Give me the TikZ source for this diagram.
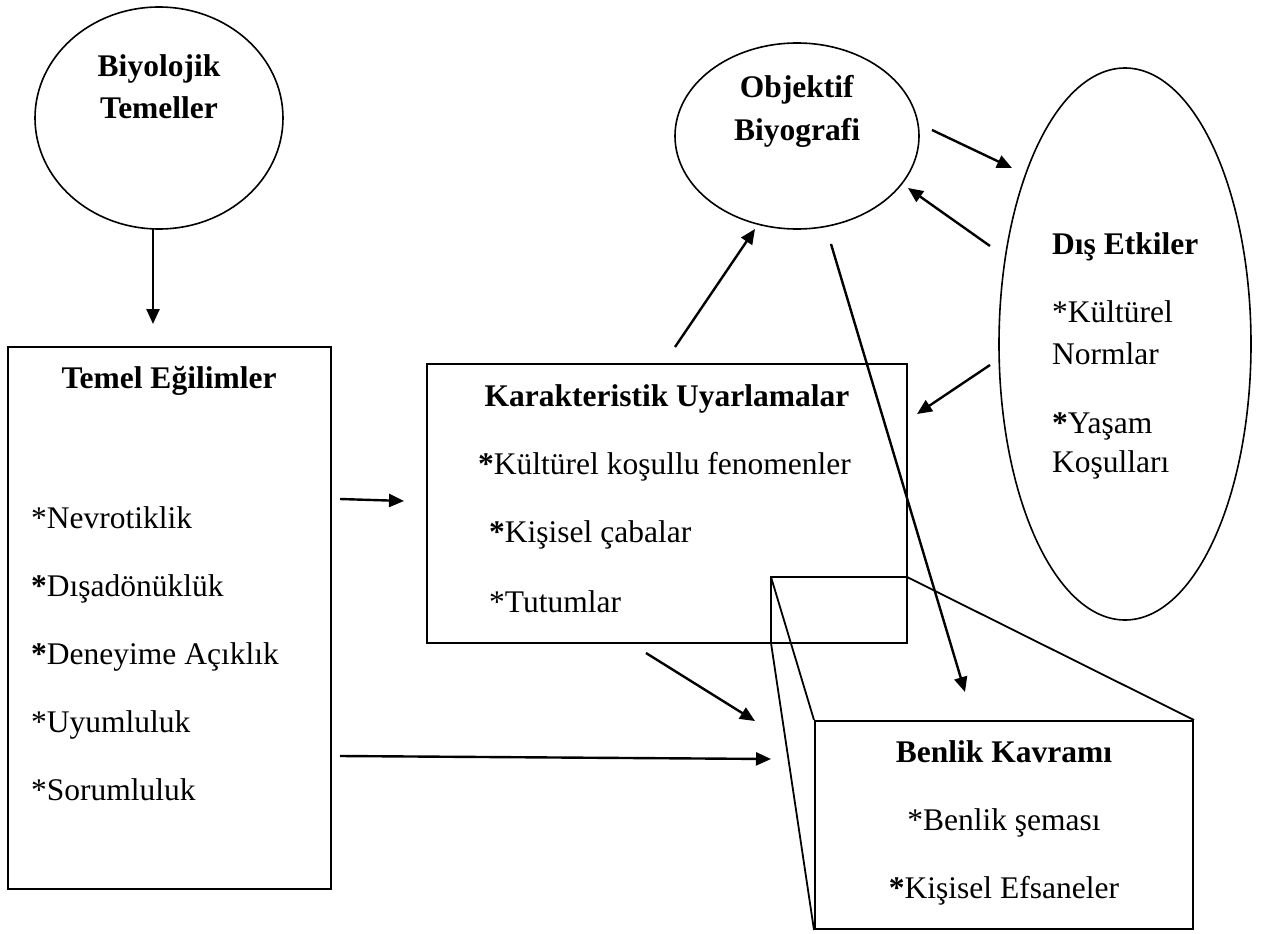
\documentclass[tikz,border=0pt]{standalone}
\usepackage{fontspec}
\setmainfont{Liberation Serif}
\usetikzlibrary{arrows.meta,shapes.geometric}
\begin{document}
\begin{tikzpicture}[x=1pt,y=-1pt,
  every node/.style={font=\fontsize{31.5}{38}\selectfont},
  oval/.style={draw,ellipse,line width=1.6pt,inner sep=0pt},
  boxnode/.style={draw,rectangle,line width=2pt,inner sep=0pt},
  lbl/.style={inner sep=0pt,anchor=base},
  lblw/.style={inner sep=0pt,anchor=base west},
  arr/.style={line width=2.4pt,-{Triangle[length=15pt,width=13pt]}},
  edgethree/.style={line width=1.8pt,line join=miter}]
\useasboundingbox (0,0) rectangle (1269,934);

% shapes
\node[oval,minimum width=248pt,minimum height=222pt] (bio) at (159,118) {};
\node[oval,minimum width=244pt,minimum height=186pt] (obj) at (797,136) {};
\node[oval,minimum width=252pt,minimum height=552pt] (dis) at (1125,344) {};
\node[boxnode,minimum width=323pt,minimum height=542pt] (temel) at (169.5,618) {};
\node[boxnode,minimum width=480pt,minimum height=279pt] (kar) at (667,503.5) {};
\node[boxnode,minimum width=378pt,minimum height=208pt] (ben) at (1004,825) {};

% back face of the Benlik box
\coordinate (bTL) at (771,577);
\coordinate (bTR) at (907,577);
\coordinate (bBL) at (771,643);
\coordinate (bBR) at (907,643);
\draw[edgethree] (bBL) -- (bTL) -- (bTR) -- (bBR) -- cycle;
\draw[edgethree] (bTL) -- (ben.north west);
\draw[edgethree] (bTR) -- (ben.north east);
\draw[edgethree] (bBL) -- (ben.south west);

% texts
\node[lbl] (bioA) at (159,77) {\textbf{Biyolojik}};
\node[lbl] (bioB) at (159,118) {\textbf{Temeller}};
\node[lbl] (objA) at (797,97) {\textbf{Objektif}};
\node[lbl] (objB) at (797,140) {\textbf{Biyografi}};
\node[lblw] (disA) at (1052,254) {\textbf{Dış Etkiler}};
\node[lblw] (disB) at (1052,322) {*Kültürel};
\node[lblw] (disC) at (1052,364) {Normlar};
\node[lblw] (disD) at (1052,433) {\textbf{*}Yaşam};
\node[lblw] (disE) at (1052,472) {Koşulları};
\node[lbl] (temA) at (169,388) {\textbf{Temel Eğilimler}};
\node[lblw] (temB) at (31,528) {*Nevrotiklik};
\node[lblw] (temC) at (31,596) {\textbf{*}Dışadönüklük};
\node[lblw] (temD) at (31,664) {\textbf{*}Deneyime Açıklık};
\node[lblw] (temE) at (31,732) {*Uyumluluk};
\node[lblw] (temF) at (31,800) {*Sorumluluk};
\node[lbl] (karA) at (667,406) {\textbf{Karakteristik Uyarlamalar}};
\node[lblw] (karB) at (478,474) {\textbf{*}Kültürel koşullu fenomenler};
\node[lblw] (karC) at (489,542) {\textbf{*}Kişisel çabalar};
\node[lblw] (karD) at (489,612) {*Tutumlar};
\node[lbl] (benA) at (1004,762) {\textbf{Benlik Kavramı}};
\node[lbl] (benB) at (1004,830) {*Benlik şeması};
\node[lbl] (benC) at (1004,898) {\textbf{*}Kişisel Efsaneler};

% arrow end points
\coordinate (a1s) at (153,229);  \coordinate (a1e) at (153,324);
\coordinate (a2s) at (340,499);  \coordinate (a2e) at (404,501);
\coordinate (a3s) at (340,756);  \coordinate (a3e) at (771,759);
\coordinate (a4s) at (675,347);  \coordinate (a4e) at (755,229);
\coordinate (a5s) at (646,653);  \coordinate (a5e) at (755,721);
\coordinate (a6s) at (831,244);  \coordinate (a6e) at (965,692);
\coordinate (a7s) at (932,130);  \coordinate (a7e) at (1012,168);
\coordinate (a8s) at (990,246);  \coordinate (a8e) at (908,188);
\coordinate (a9s) at (990,365);  \coordinate (a9e) at (917,414);

\draw[arr] (a1s) -- (a1e);
\draw[arr] (a2s) -- (a2e);
\draw[arr] (a3s) -- (a3e);
\draw[arr] (a4s) -- (a4e);
\draw[arr] (a5s) -- (a5e);
\draw[arr] (a6s) -- (a6e);
\draw[arr] (a7s) -- (a7e);
\draw[arr] (a8s) -- (a8e);
\draw[arr] (a9s) -- (a9e);
\end{tikzpicture}
\end{document}
